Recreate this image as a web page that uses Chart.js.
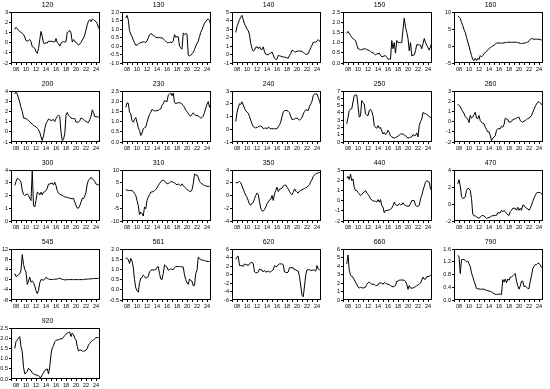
<!DOCTYPE html>
<html>
<head>
<meta charset="utf-8">
<script src="https://cdn.jsdelivr.net/npm/chart.js@4.4.1/dist/chart.umd.min.js"></script>
<style>
  body { margin: 0; background: #fff; }
  #wrap { position: relative; width: 550px; height: 389px; overflow: hidden; }
  #wrap canvas { position: absolute; }
</style>
</head>
<body>
<div id="wrap"></div>
<script>
// quarterly observations, 2007Q4 .. 2024Q4
const quarters = [2007.75,
  2008, 2008.25, 2008.5, 2008.75, 2009, 2009.25, 2009.5, 2009.75,
  2010, 2010.25, 2010.5, 2010.75, 2011, 2011.25, 2011.5, 2011.75,
  2012, 2012.25, 2012.5, 2012.75, 2013, 2013.25, 2013.5, 2013.75,
  2014, 2014.25, 2014.5, 2014.75, 2015, 2015.25, 2015.5, 2015.75,
  2016, 2016.25, 2016.5, 2016.75, 2017, 2017.25, 2017.5, 2017.75,
  2018, 2018.25, 2018.5, 2018.75, 2019, 2019.25, 2019.5, 2019.75,
  2020, 2020.25, 2020.5, 2020.75, 2021, 2021.25, 2021.5, 2021.75,
  2022, 2022.25, 2022.5, 2022.75, 2023, 2023.25, 2023.5, 2023.75,
  2024, 2024.25, 2024.5, 2024.75];

const titles = ["120", "130", "140", "150", "160", "200", "230", "240", "250", "260",
  "300", "310", "350", "440", "470", "545", "561", "620", "660", "790", "920"];

const s120 = [1.3, 1.5, 1.35, 1.2, 1.1, 1.0, 0.9, 0.8, 0.55, 0.2, 0.15, 0.2, 0.3, 0.1, -0.4, -0.45, -0.55,
  -0.9, -1.05, -0.6, 0.3, 1.1, 0.6, -0.05, -0.1, 0.0, -0.05, 0.15, 0.1, 0.15, 0.1, 0.1, 0.05,
  0.4, 0.0, -0.1, -0.35, -0.05, 0.05, 0.1, 0.05, 0.1, 1.0, 1.05, 1.2, 0.95, 0.05, 0.3, 0.1,
  0.05, -0.1, -0.25, -0.15, 0.0, 0.25, 0.45, 0.75, 1.25, 1.75, 2.1, 2.25, 2.05, 2.3, 2.25, 2.15,
  2.05, 1.85, 1.45, 1.3];
const s130 = [1.65, 1.8, 1.55, 0.9, 0.7, 0.55, 0.35, 0.2, 0.05, 0.05, 0.1, 0.18, 0.2, 0.22, 0.25, 0.23, 0.2,
  0.3, 0.48, 0.65, 0.73, 0.68, 0.62, 0.58, 0.52, 0.5, 0.48, 0.5, 0.48, 0.48, 0.42, 0.35, 0.28,
  0.2, 0.2, 0.2, 0.22, 0.2, 0.3, 0.67, 0.52, 0.55, 0.54, 0.0, -0.1, -0.19, 0.77, 0.67, 0.73,
  0.7, -0.54, -0.58, -0.55, -0.45, -0.38, -0.2, 0.0, 0.15, 0.29, 0.55, 0.8, 0.96, 1.15, 1.35, 1.44,
  1.55, 1.58, 1.5, 1.25];
const s140 = [2.6, 3.3, 3.7, 4.1, 4.4, 4.6, 4.1, 3.6, 3.3, 3.0, 2.8, 2.3, 1.3, 0.7, 0.4, 0.5, 0.85,
  0.9, 0.7, 0.9, 0.6, 0.6, 0.9, 0.3, 0.05, 0.0, -0.05, 0.1, 0.13, 0.3, -0.05, -0.45, -0.6,
  -0.55, -0.1, -0.15, -0.2, -0.25, -0.3, -0.3, -0.35, -0.4, -0.45, -0.1, 0.13, 0.5, 0.45, 0.3, 0.3,
  0.4, 0.4, 0.4, 0.4, 0.35, 0.25, 0.15, 0.0, 0.05, 0.1, 0.45, 0.8, 1.1, 1.45, 1.45, 1.45,
  1.55, 1.75, 1.6, 1.4];
const s150 = [1.45, 1.55, 1.45, 1.35, 1.25, 1.2, 1.15, 1.1, 0.9, 0.7, 0.68, 0.65, 0.65, 0.68, 0.7, 0.7, 0.66,
  0.63, 0.62, 0.55, 0.52, 0.5, 0.45, 0.4, 0.44, 0.46, 0.48, 0.38, 0.3, 0.32, 0.35, 0.36, 0.28,
  0.2, 0.19, 0.19, 1.1, 0.7, 1.0, 0.48, 1.1, 1.0, 1.0, 1.0, 1.0, 1.65, 2.2, 1.75, 1.5,
  1.2, 0.6, 1.0, 0.35, 0.38, 0.4, 0.6, 0.9, 0.9, 0.88, 0.87, 0.7, 0.95, 1.2, 1.0, 0.87,
  0.75, 0.63, 0.8, 1.0];
const s160 = [8.9, 8.5, 8.1, 7.0, 6.0, 4.8, 4.0, 2.5, 1.2, 0.0, -1.5, -2.8, -4.0, -4.3, -3.6, -4.3, -3.6,
  -4.0, -2.8, -3.2, -2.8, -2.2, -1.9, -1.6, -1.2, -0.75, -0.5, -0.2, 0.0, 0.2, 0.5, 0.9, 0.9,
  0.85, 0.85, 0.85, 0.85, 0.95, 1.0, 1.05, 1.1, 1.1, 1.1, 1.1, 1.1, 1.1, 1.1, 1.1, 1.0,
  0.9, 0.8, 0.7, 0.75, 0.85, 0.95, 1.05, 1.1, 1.5, 2.0, 2.2, 2.1, 2.0, 2.0, 2.0, 2.0,
  2.0, 1.9, 1.75, 1.6];
const s200 = [3.7, 3.9, 3.7, 3.3, 2.9, 2.4, 2.0, 1.35, 1.35, 1.3, 1.2, 1.1, 1.0, 0.85, 0.75, 0.65, 0.55,
  0.5, 0.35, 0.2, -0.05, -0.5, -0.85, -0.4, 0.3, 0.8, 1.0, 1.25, 1.2, 1.1, 1.15, 1.2, 1.0,
  1.3, 1.5, 1.65, 1.5, -0.05, -0.85, -0.75, -0.2, 1.6, 1.9, 1.6, 1.5, 1.35, 1.3, 1.3, 1.3,
  0.95, 0.95, 0.95, 1.1, 1.35, 1.3, 1.2, 1.1, 1.0, 0.95, 0.9, 1.2, 1.5, 2.15, 1.9, 1.5,
  1.5, 1.45, 1.45, 1.45];
const s230 = [1.7, 1.92, 1.9, 1.46, 1.38, 1.05, 0.97, 1.1, 1.2, 0.97, 0.7, 0.57, 0.32, 0.44, 0.65, 0.7, 0.73,
  0.97, 1.17, 1.35, 1.46, 1.6, 1.55, 1.53, 1.53, 1.53, 1.55, 1.6, 1.62, 1.8, 1.87, 2.03, 2.0,
  1.98, 2.3, 2.35, 2.4, 2.27, 2.4, 1.95, 1.87, 1.92, 1.92, 1.92, 1.92, 1.85, 1.79, 1.7, 1.55,
  1.5, 1.4, 1.3, 1.27, 1.35, 1.43, 1.35, 1.3, 1.3, 1.27, 1.22, 1.17, 1.2, 1.27, 1.45, 1.66,
  1.85, 1.98, 1.7, 1.87];
const s240 = [0.6, 1.3, 1.7, 2.0, 1.95, 2.15, 1.9, 1.65, 1.45, 1.35, 1.26, 1.0, 0.7, 0.43, 0.2, 0.15, 0.1,
  0.15, 0.2, 0.25, 0.25, 0.2, 0.04, 0.08, 0.1, 0.04, 0.17, 0.1, 0.04, 0.04, 0.04, 0.04, 0.04,
  0.04, 0.2, 0.35, 0.56, 1.0, 1.34, 1.47, 1.47, 1.47, 1.4, 1.3, 1.0, 0.77, 0.77, 0.8, 0.87,
  0.87, 0.8, 0.7, 0.82, 0.9, 1.2, 1.4, 1.53, 1.5, 1.47, 1.8, 1.99, 2.2, 2.64, 2.77, 2.77,
  2.77, 2.5, 2.2, 1.86];
const s250 = [2.5, 3.4, 4.3, 4.5, 4.55, 5.5, 6.4, 6.45, 6.45, 5.0, 3.4, 3.6, 5.7, 5.4, 5.25, 3.85, 3.7,
  3.6, 4.35, 4.5, 4.2, 3.6, 2.25, 2.0, 1.9, 2.25, 1.9, 2.0, 1.5, 1.1, 1.3, 1.0, 1.2,
  1.6, 1.3, 0.85, 0.7, 0.6, 0.55, 0.6, 0.7, 0.8, 0.95, 1.1, 1.1, 1.1, 0.95, 0.85, 0.7,
  0.55, 0.6, 0.65, 0.7, 1.0, 0.9, 0.9, 1.25, 0.7, 2.25, 2.8, 3.15, 4.05, 3.9, 3.9, 3.75,
  3.65, 3.5, 3.4, 3.15];
const s260 = [1.73, 1.57, 1.5, 1.2, 0.99, 0.8, 0.5, 0.34, 0.27, -0.1, 0.6, 0.34, 0.44, 0.7, 0.92, 0.34, 0.27,
  0.6, 0.1, -0.05, -0.2, -0.2, -0.55, -0.75, -1.0, -1.0, -1.35, -1.85, -1.65, -1.5, -1.4, -0.85, -0.7,
  -0.7, -0.7, -0.45, -0.55, -0.3, 0.34, 0.25, 0.21, -0.05, -0.05, 0.0, 0.2, 0.25, 0.27, 0.35, 0.4,
  0.44, 0.1, 0.0, -0.05, 0.05, 0.1, 0.2, 0.3, 0.35, 0.44, 0.6, 0.9, 1.2, 1.5, 1.73, 1.9,
  1.96, 1.83, 1.7, 1.57];
const s300 = [2.78, 3.09, 3.35, 3.3, 3.2, 3.04, 2.4, 2.1, 2.0, 2.05, 2.13, 2.0, 1.79, 1.6, 3.95, 1.22, 1.09,
  1.6, 2.26, 2.2, 2.05, 2.26, 2.05, 2.26, 2.3, 2.39, 2.57, 2.9, 2.9, 2.95, 2.98, 2.83, 3.04,
  2.78, 2.39, 2.2, 2.1, 2.05, 2.0, 1.95, 1.9, 1.87, 1.85, 1.82, 1.79, 1.77, 1.74, 1.79, 1.5,
  1.22, 1.01, 1.01, 1.2, 1.48, 1.79, 1.74, 1.95, 2.26, 2.9, 3.2, 3.3, 3.43, 3.3, 3.25, 3.1,
  2.9, 2.85, 2.83, 2.83];
const s310 = [2.3, 2.1, 2.0, 1.95, 1.95, 1.95, 1.55, 0.8, 0.0, -1.95, -3.9, -7.5, -6.5, -7.1, -8.05, -4.5, -5.2,
  -1.95, -0.65, 0.3, 1.3, 1.4, 1.55, 1.9, 2.3, 3.0, 3.9, 4.6, 5.45, 5.8, 6.1, 5.6, 5.2,
  4.55, 4.75, 4.95, 5.45, 5.45, 5.2, 4.85, 4.55, 4.15, 4.55, 4.2, 3.9, 4.55, 3.9, 3.3, 2.85,
  2.4, 1.95, 1.7, 1.55, 2.3, 4.55, 8.45, 8.05, 8.05, 7.15, 5.45, 5.0, 4.55, 4.2, 3.9, 3.75,
  3.6, 3.6, 3.6, 3.6];
const s350 = [1.97, 2.0, 2.1, 2.2, 2.0, 1.5, 1.0, 0.5, 0.0, -0.3, -0.8, -1.4, -1.5, -1.2, -1.1, -0.5, 0.0,
  0.4, 0.2, -1.0, -2.0, -2.4, -2.45, -2.2, -1.8, -1.3, -1.0, -0.7, -0.6, 0.0, -0.78, 0.26, 0.8,
  1.3, 0.62, 1.0, 1.04, 1.14, 1.5, 1.6, 1.65, 1.3, 1.0, 0.62, 0.3, 0.1, 0.5, 1.04, 0.7,
  0.5, 0.4, 0.7, 0.8, 0.9, 1.0, 1.1, 1.2, 1.3, 1.5, 1.7, 2.2, 2.5, 3.0, 3.2, 3.4,
  3.5, 3.55, 3.6, 3.65];
const s440 = [2.19, 2.38, 2.06, 2.6, 1.96, 2.12, 1.31, 0.99, 0.99, 0.8, 0.66, 0.5, 0.6, 0.75, 0.83, 0.99, 0.76,
  0.6, 0.43, 0.18, 0.05, 0.0, -0.08, -0.05, -0.15, 0.1, -0.15, 0.1, -0.47, -0.64, -1.19, -0.96, -0.96,
  -0.96, -0.9, -0.86, -0.73, -0.5, -0.15, -0.41, -0.47, -0.47, -0.31, -0.4, -0.41, -0.21, -0.4, -0.47, -0.54,
  -0.54, -0.54, -0.3, 0.0, 0.0, 0.0, -0.47, -0.56, -0.56, -0.47, 0.18, 0.5, 0.99, 1.4, 1.8, 1.96,
  1.85, 1.8, 1.15, 0.99];
const s470 = [2.38, 2.86, 2.14, 0.9, 0.64, 0.7, 0.82, 1.6, 1.84, 1.8, 1.6, 0.64, -1.16, -1.4, -1.4, -1.52, -1.6,
  -1.7, -1.52, -1.4, -1.34, -1.4, -1.55, -1.7, -1.64, -1.6, -1.52, -1.4, -1.4, -1.34, -1.34, -1.34, -1.04,
  -1.04, -1.04, -0.74, -0.92, -0.74, -0.92, -1.1, -1.28, -1.34, -0.9, -0.74, -0.5, -0.5, -0.5, -0.74, -0.38,
  -0.74, -0.5, -0.74, -0.14, -0.14, -0.38, -0.5, -0.56, -0.74, -0.5, -0.14, 0.3, 0.7, 1.0, 1.3, 1.36,
  1.36, 1.36, 1.2, 1.0];
const s545 = [2.4, 1.2, 1.5, 1.8, 2.4, 3.6, 9.8, 6.0, 4.0, 3.0, -1.9, -0.6, 0.9, -1.0, -0.6, -1.25, -2.5,
  -4.3, -5.5, -4.3, -1.25, 0.0, -0.1, -0.25, 0.25, 0.9, 0.5, 0.25, 0.1, 0.0, 0.0, 0.1, 0.1,
  0.2, 0.25, 0.4, 0.6, 0.25, 0.1, 0.0, -0.1, -0.1, 0.0, 0.0, 0.0, 0.0, 0.0, 0.0, 0.0,
  0.0, 0.0, 0.0, 0.0, 0.0, 0.0, 0.05, 0.1, 0.15, 0.2, 0.25, 0.25, 0.3, 0.35, 0.4, 0.4,
  0.45, 0.45, 0.5, 0.5];
const s561 = [1.57, 1.53, 1.49, 1.29, 1.54, 1.4, 1.11, 0.5, 0.1, -0.04, -0.12, 0.34, 0.57, 0.6, 0.73, 0.65, 0.57,
  0.6, 0.65, 0.88, 0.95, 0.99, 0.96, 0.98, 0.99, 1.11, 1.14, 0.8, 0.53, 0.5, 0.8, 1.23, 1.15,
  1.11, 0.96, 0.99, 1.03, 1.0, 0.99, 1.08, 1.14, 1.14, 1.14, 1.14, 1.13, 1.12, 1.11, 0.73, 0.5,
  0.34, 0.27, 0.53, 0.45, 0.42, 0.19, 0.22, 0.8, 0.96, 1.6, 1.52, 1.49, 1.45, 1.45, 1.42, 1.42,
  1.39, 1.39, 1.39, 1.39];
const s620 = [3.57, 4.1, 4.3, 2.1, 2.1, 2.1, 1.9, 2.5, 2.3, 2.3, 2.1, 2.5, 2.8, 2.8, 2.6, 0.6, 0.4,
  0.4, 0.6, 1.3, 1.1, 1.1, 0.6, 0.95, 0.6, 0.6, 0.8, 0.6, 0.6, 0.95, 1.1, 2.1, 1.9,
  1.9, 2.3, 2.5, 2.5, 2.5, 2.3, 0.6, 0.5, 0.4, 0.6, 1.6, 1.6, 1.6, 1.6, 1.1, 1.1,
  0.9, 0.8, -0.5, -2.7, -4.9, -5.25, -2.7, -0.1, 1.1, 1.1, 1.1, 1.0, 0.95, 1.1, 1.0, 0.8,
  2.1, 1.3, 1.1, 0.95];
const s660 = [4.26, 5.3, 3.5, 2.95, 2.75, 2.7, 2.4, 2.1, 1.85, 1.55, 1.4, 1.5, 1.45, 1.4, 1.45, 1.5, 1.85,
  2.0, 2.1, 2.0, 1.85, 1.85, 1.85, 1.7, 1.7, 1.75, 2.0, 2.0, 2.0, 1.85, 2.05, 1.95, 1.9,
  1.85, 1.8, 1.7, 1.6, 1.55, 1.6, 1.7, 2.2, 2.2, 2.35, 2.35, 2.35, 2.35, 2.3, 2.2, 1.85,
  1.25, 1.7, 1.4, 1.4, 1.4, 1.5, 1.55, 1.7, 1.75, 1.9, 2.0, 2.35, 2.7, 2.45, 2.45, 2.75,
  2.75, 2.8, 2.9, 2.95];
const s790 = [1.4, 1.37, 0.83, 1.27, 1.27, 1.27, 1.24, 1.2, 1.22, 1.14, 1.05, 0.85, 0.73, 0.6, 0.49, 0.36, 0.35,
  0.35, 0.34, 0.34, 0.34, 0.34, 0.32, 0.3, 0.29, 0.28, 0.27, 0.26, 0.22, 0.2, 0.18, 0.17, 0.18,
  0.19, 0.18, 0.17, 0.64, 0.56, 0.66, 0.54, 0.66, 0.62, 0.72, 0.72, 0.76, 0.8, 0.83, 0.59, 0.45,
  0.34, 0.44, 0.59, 0.59, 0.42, 0.44, 0.4, 0.36, 0.36, 0.59, 0.76, 0.98, 1.05, 1.11, 1.11, 1.15,
  1.15, 1.1, 1.03, 1.05];
const s920 = [1.5, 1.83, 1.92, 2.0, 2.08, 1.58, 1.33, 0.58, 0.25, 0.3, 0.37, 0.53, 0.45, 0.42, 0.3, 0.25, 0.22,
  0.2, 0.18, 0.17, 0.08, 0.08, 0.2, 0.3, 0.42, 0.45, 0.5, 0.25, 0.6, 1.2, 1.53, 1.63, 1.83,
  1.9, 1.92, 1.92, 1.95, 1.97, 1.97, 2.05, 2.13, 2.2, 2.25, 2.28, 2.3, 2.08, 2.25, 2.17, 2.0,
  1.92, 1.6, 1.37, 1.42, 1.42, 1.37, 1.37, 1.37, 1.42, 1.5, 1.67, 1.75, 1.83, 1.88, 1.92, 1.97,
  2.03, 2.03, 2.03, 2.03];

const series = [s120, s130, s140, s150, s160, s200, s230, s240, s250, s260,
  s300, s310, s350, s440, s470, s545, s561, s620, s660, s790, s920];

// y axis: min, max, step, decimals
const yMin  = [-2, -1.0, -1, 0.0, -5, -1, 0.0, -1, 0, -2, 0, -10, -4, -2, -2, -8, -0.5, -6, 0, 0.0, 0.0];
const yMax  = [3, 2.0, 5, 2.5, 10, 4, 2.5, 3, 7, 3, 4, 10, 4, 3, 4, 12, 2.0, 6, 6, 1.6, 2.5];
const yStep = [1, 0.5, 1, 0.5, 5, 1, 0.5, 1, 1, 1, 1, 5, 2, 1, 2, 4, 0.5, 2, 1, 0.4, 0.5];
const yDec  = [0, 1, 0, 1, 0, 0, 1, 0, 0, 0, 0, 0, 0, 0, 0, 0, 1, 0, 0, 1, 1];

// panel plot-box positions
const boxLeft = [11, 122, 232, 343, 454];
const boxTop = [12, 91, 170, 249, 328];
const YW = 16, XH = 16, TH = 12, BW = 89, BH = 51;

const FONT = "'Liberation Sans', Arial, sans-serif";

const frame = {
  id: "frame",
  afterDraw(chart) {
    const a = chart.chartArea, c = chart.ctx;
    c.save();
    c.strokeStyle = "#000";
    c.lineWidth = 1;
    c.strokeRect(Math.round(a.left) + 0.5, Math.round(a.top) + 0.5,
      Math.round(a.right - a.left) - 1, Math.round(a.bottom - a.top) - 1);
    c.restore();
  }
};

const wrap = document.getElementById("wrap");

series.forEach((vals, i) => {
  const col = i % 5, row = Math.floor(i / 5);
  const cv = document.createElement("canvas");
  const w = YW + BW + 8, h = TH + BH + XH;
  cv.width = w; cv.height = h;
  cv.style.width = w + "px"; cv.style.height = h + "px";
  cv.style.left = (boxLeft[col] - YW) + "px";
  cv.style.top = (boxTop[row] - TH) + "px";
  wrap.appendChild(cv);

  new Chart(cv, {
    type: "line",
    data: {
      datasets: [{
        data: quarters.map((q, k) => ({ x: q, y: vals[k] })),
        borderColor: "#000",
        borderWidth: 1,
        pointRadius: 0,
        tension: 0,
        fill: false
      }]
    },
    options: {
      responsive: false,
      animation: false,
      events: [],
      layout: { padding: { left: 0, right: 8, top: 0, bottom: 0 } },
      plugins: {
        legend: { display: false },
        tooltip: { enabled: false },
        title: {
          display: true,
          text: titles[i],
          color: "#000",
          font: { family: FONT, size: 7, weight: "normal", lineHeight: 1 },
          padding: { top: 2, bottom: 3 }
        }
      },
      scales: {
        x: {
          type: "linear",
          min: 2007,
          max: 2024.8,
          afterFit: s => { s.height = XH; },
          border: { display: false },
          grid: { drawOnChartArea: false, drawTicks: true, tickLength: 2, color: "#000" },
          ticks: {
            stepSize: 1,
            includeBounds: false,
            autoSkip: false,
            maxRotation: 0,
            padding: 1,
            color: "#000",
            font: { family: FONT, size: 5.5 },
            callback: v => (v % 2 === 0 ? String(v).slice(2) : "")
          }
        },
        y: {
          min: yMin[i],
          max: yMax[i],
          afterFit: s => { s.width = YW; },
          border: { display: false },
          grid: { drawOnChartArea: false, drawTicks: true, tickLength: 2, color: "#000" },
          ticks: {
            stepSize: yStep[i],
            autoSkip: false,
            padding: 1,
            color: "#000",
            font: { family: FONT, size: 5.5 },
            callback: v => v.toFixed(yDec[i])
          }
        }
      }
    },
    plugins: [frame]
  });
});
</script>
</body>
</html>
